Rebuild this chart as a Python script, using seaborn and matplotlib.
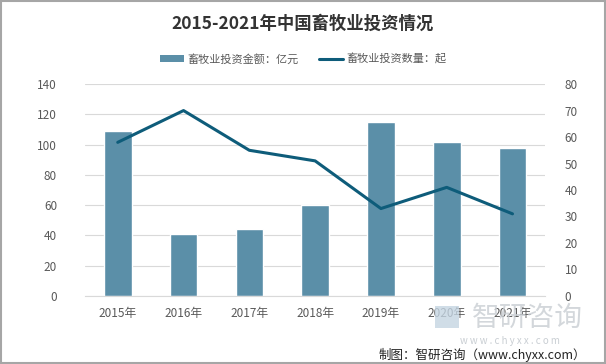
import pandas as pd
import matplotlib.pyplot as plt
import seaborn as sns
from matplotlib.patches import Patch, Rectangle
from matplotlib.lines import Line2D

years = ["2015年", "2016年", "2017年", "2018年", "2019年", "2020年", "2021年"]
amount = [109, 41, 44, 60, 115, 102, 98]      # 畜牧业投资金额：亿元
count = [58, 70, 55, 51, 33, 41, 31]          # 畜牧业投资数量：起

BAR_COLOR = "#5b8fa8"
LINE_COLOR = "#0e5c7a"
TICK_COLOR = "#595959"


def main():
    sns.set_style("white")
    plt.rcParams["font.family"] = ["Noto Sans CJK SC", "DejaVu Sans"]

    df = pd.DataFrame({"year": years, "amount": amount, "count": count})

    fig = plt.figure(figsize=(6.06, 3.64), dpi=100)
    ax = fig.add_axes([0.14, 0.187, 0.76, 0.582])

    sns.barplot(data=df, x="year", y="amount", color=BAR_COLOR, width=0.42,
                saturation=1, ax=ax, zorder=2)
    ax.set_ylim(0, 140)
    ax.set_yticks(range(0, 141, 20))
    ax.yaxis.grid(True, color="#d9d9d9", linewidth=0.8, zorder=0)
    ax.set_axisbelow(True)
    ax.set_xlabel("")
    ax.set_ylabel("")
    for s in ["top", "right", "left"]:
        ax.spines[s].set_visible(False)
    ax.spines["bottom"].set_color("#d9d9d9")
    ax.tick_params(axis="both", length=0, labelsize=8.5, colors=TICK_COLOR, pad=8)
    ax.tick_params(axis="y", pad=20)

    ax2 = ax.twinx()
    sns.lineplot(data=df, x="year", y="count", color=LINE_COLOR, linewidth=2.2,
                 ax=ax2, sort=False)
    ax2.set_ylim(0, 80)
    ax2.set_yticks(range(0, 81, 10))
    ax2.set_ylabel("")
    for s in ax2.spines.values():
        s.set_visible(False)
    ax2.tick_params(axis="y", length=0, labelsize=8.5, colors=TICK_COLOR, pad=14)
    ax.set_xlim(-0.5, len(years) - 0.5)

    fig.text(0.5, 0.935, "2015-2021年中国畜牧业投资情况", ha="center", va="center",
             fontsize=12.5, fontweight="bold", color="#333333")

    handles = [Patch(facecolor=BAR_COLOR, edgecolor="none"),
               Line2D([0], [0], color=LINE_COLOR, linewidth=2.2)]
    fig.legend(handles, ["畜牧业投资金额：亿元", "畜牧业投资数量：起"],
               loc="center", bbox_to_anchor=(0.5, 0.838), ncol=2, frameon=False,
               fontsize=8, handlelength=2.2, handleheight=0.6, columnspacing=1.8,
               handletextpad=0.3, labelcolor=TICK_COLOR)

    # watermark
    fig.patches.append(Rectangle((0.718, 0.098), 0.04, 0.06, transform=fig.transFigure,
                                 facecolor="#c5d5e2", edgecolor="none", alpha=0.8))
    fig.text(0.87, 0.128, "智研咨询", ha="center", va="center", fontsize=20,
             color="#c9ced3", alpha=0.8, zorder=0)
    fig.text(0.842, 0.063, "w w w . c h y x x . c o m", ha="center", va="center",
             fontsize=7, color="#c9ced3")
    fig.text(0.967, 0.025, "制图：智研咨询（www.chyxx.com）", ha="right", va="center",
             fontsize=9, color="#222222")

    fig.patches.append(Rectangle((0.002, 0.003), 0.996, 0.994, transform=fig.transFigure,
                                 fill=False, edgecolor="#a6a6a6", linewidth=1.5))

    fig.savefig("out.png", dpi=100)
    plt.close(fig)


if __name__ == "__main__":
    main()
